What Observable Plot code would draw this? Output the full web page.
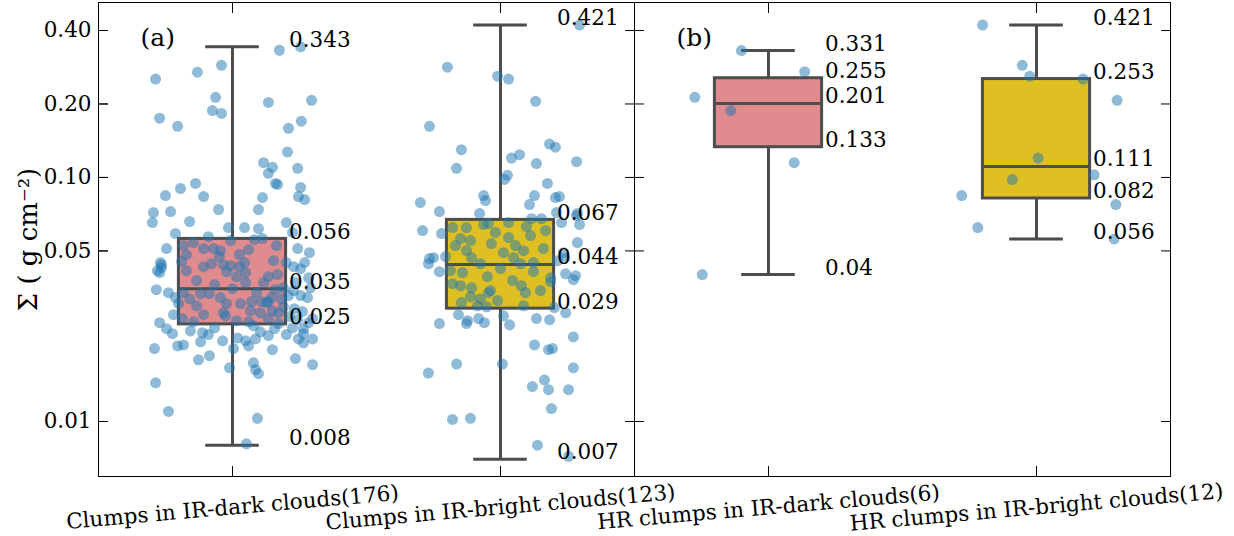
<!DOCTYPE html>
<html>
<head>
<meta charset="utf-8">
<script src="https://cdn.jsdelivr.net/npm/d3@7"></script>
<script src="https://cdn.jsdelivr.net/npm/@observablehq/plot@0.6"></script>
<style>
  html, body { margin: 0; padding: 0; background: #fff; }
  #chart svg { display: block; }
</style>
</head>
<body>
<div id="chart"></div>
<script>
// Surface density Σ (g cm^-2) of clumps, grouped by host-cloud type.
const panelNames = ["(a)", "(b)"];
const categoryLabels = [
  "Clumps in IR-dark clouds(176)",
  "Clumps in IR-bright clouds(123)",
  "HR clumps in IR-dark clouds(6)",
  "HR clumps in IR-bright clouds(12)"
];
const categoryPanel = ["(a)", "(a)", "(b)", "(b)"];
const categorySlot = [0, 1, 0, 1];

// Box statistics per category (whisker ends span the full data range).
const whiskerHigh   = [0.343, 0.421, 0.331, 0.421];
const upperQuartile = [0.056, 0.067, 0.255, 0.253];
const medians       = [0.035, 0.044, 0.201, 0.111];
const lowerQuartile = [0.025, 0.029, 0.133, 0.082];
const whiskerLow    = [0.008, 0.007, 0.04, 0.056];

const yTicks = [0.01, 0.05, 0.1, 0.2, 0.4];

// Individual clump values, with the horizontal strip jitter (fraction of a category slot).
const darkValues = [
  0.332, 0.343, 0.288, 0.270, 0.253, 0.213, 0.203, 0.207, 0.188, 0.183,
  0.175, 0.162, 0.170, 0.159, 0.127, 0.115, 0.110, 0.109, 0.104, 0.0945,
  0.0936, 0.0910, 0.0945, 0.0901, 0.0843, 0.0835, 0.0827, 0.0835, 0.0812, 0.0718,
  0.0653, 0.0725, 0.0660, 0.0739, 0.0739, 0.0623, 0.0623, 0.0617, 0.0653, 0.0589,
  0.0541, 0.0556, 0.0594, 0.0511, 0.0492, 0.0448, 0.0431, 0.0511, 0.0511, 0.0501,
  0.0474, 0.0483, 0.0506, 0.0483, 0.0452, 0.0448, 0.0427, 0.0407, 0.0431, 0.0443,
  0.0439, 0.0435, 0.0431, 0.0411, 0.0392, 0.0407, 0.0456, 0.0392, 0.0400, 0.0371,
  0.0347, 0.0337, 0.0322, 0.0337, 0.0334, 0.0334, 0.0318, 0.0322, 0.0304, 0.0304,
  0.0310, 0.0310, 0.0310, 0.0322, 0.0347, 0.0353, 0.0328, 0.0344, 0.0328, 0.0322,
  0.0371, 0.0388, 0.0304, 0.0274, 0.0264, 0.0274, 0.0279, 0.0271, 0.0284, 0.0279,
  0.0307, 0.0284, 0.0279, 0.0295, 0.0290, 0.0261, 0.0254, 0.0242, 0.0240, 0.0254,
  0.0256, 0.0256, 0.0252, 0.0229, 0.0231, 0.0227, 0.0233, 0.0225, 0.0227, 0.0229,
  0.0218, 0.0204, 0.0206, 0.0212, 0.0220, 0.0214, 0.0218, 0.0218, 0.0210, 0.0199,
  0.0199, 0.0197, 0.0179, 0.0186, 0.0166, 0.0174, 0.0163, 0.0157, 0.0181, 0.0171,
  0.0144, 0.0110, 0.0103, 0.0081, 0.0439, 0.0415, 0.0415, 0.0378, 0.0364, 0.0350,
  0.0337, 0.0371, 0.0318, 0.0269, 0.0264, 0.0247, 0.0259, 0.0242, 0.0235, 0.0240,
  0.0282, 0.0353, 0.0448, 0.0423, 0.0526, 0.0562, 0.0551, 0.0572, 0.0526, 0.0511,
  0.0448, 0.0298, 0.0240, 0.0264, 0.0204, 0.0214
];
const darkJitter = [
  0.175, 0.254, -0.041, -0.131, -0.287, -0.063, 0.134, 0.295, -0.075, -0.041,
  -0.272, -0.205, 0.257, 0.209, 0.205, 0.116, 0.149, 0.243, 0.134, 0.160,
  0.168, 0.254, -0.138, -0.194, -0.250, -0.108, 0.112, 0.246, 0.269, -0.295,
  -0.299, -0.231, -0.160, -0.052, 0.097, -0.015, 0.045, 0.097, 0.201, -0.213,
  -0.146, 0.082, 0.224, 0.243, 0.287, 0.269, 0.228, -0.108, -0.071, -0.045,
  -0.049, 0.026, 0.060, -0.172, -0.190, -0.269, -0.265, -0.272, -0.108, -0.078,
  -0.034, -0.007, 0.026, -0.022, 0.015, 0.049, 0.153, 0.134, 0.168, 0.049,
  -0.284, -0.239, -0.213, -0.183, -0.119, -0.086, -0.160, -0.045, -0.022, 0.030,
  0.071, 0.108, 0.134, 0.146, 0.160, 0.190, 0.209, 0.228, 0.254, 0.280,
  0.235, 0.284, -0.201, -0.220, -0.187, -0.108, -0.034, -0.026, 0.067, 0.104,
  0.127, 0.149, 0.172, 0.190, 0.231, 0.243, 0.284, 0.224, 0.265, -0.272,
  -0.146, 0.060, 0.172, -0.224, -0.112, -0.090, 0.104, 0.134, 0.201, 0.265,
  0.299, -0.205, -0.183, -0.119, 0.019, 0.049, 0.086, 0.246, 0.265, -0.291,
  0.004, 0.149, -0.127, -0.086, -0.011, 0.078, 0.086, 0.097, 0.235, 0.299,
  -0.287, -0.239, 0.093, 0.052, -0.265, -0.280, -0.172, -0.134, -0.067, 0.000,
  0.090, 0.116, 0.183, 0.213, 0.134, 0.078, 0.015, -0.067, -0.157, -0.246,
  0.261, 0.291, 0.201, 0.254, 0.164, 0.112, -0.007, -0.090, -0.183, -0.246,
  0.045, -0.134, 0.157, 0.299, 0.060, -0.037
];

const brightValues = [
  0.421, 0.283, 0.260, 0.253, 0.205, 0.162, 0.137, 0.133, 0.130, 0.124,
  0.120, 0.116, 0.114, 0.109, 0.102, 0.0981, 0.0945, 0.0843, 0.0843, 0.0827,
  0.0835, 0.0789, 0.0804, 0.0725, 0.0712, 0.0774, 0.0718, 0.0712, 0.0641, 0.0541,
  0.0606, 0.0589, 0.0623, 0.0623, 0.0562, 0.0647, 0.0653, 0.0567, 0.0678, 0.0678,
  0.0653, 0.0536, 0.0492, 0.0501, 0.0511, 0.0501, 0.0465, 0.0469, 0.0469, 0.0443,
  0.0443, 0.0448, 0.0492, 0.0465, 0.0698, 0.0641, 0.0443, 0.0411, 0.0415, 0.0407,
  0.0392, 0.0469, 0.0411, 0.0388, 0.0456, 0.0403, 0.0396, 0.0381, 0.0367, 0.0360,
  0.0353, 0.0344, 0.0360, 0.0337, 0.0307, 0.0318, 0.0337, 0.0374, 0.0293, 0.0279,
  0.0298, 0.0295, 0.0298, 0.0274, 0.0259, 0.0264, 0.0254, 0.0271, 0.0249, 0.0252,
  0.0252, 0.0264, 0.0261, 0.0222, 0.0206, 0.0197, 0.0199, 0.0158, 0.0172, 0.0172,
  0.0166, 0.0148, 0.0139, 0.0135, 0.0135, 0.0113, 0.0102, 0.0103, 0.0080, 0.0072,
  0.0551, 0.0595, 0.0526, 0.0578, 0.0606, 0.0526, 0.0423, 0.0378, 0.0344, 0.0313,
  0.0325, 0.0474, 0.0629
];
const brightJitter = [
  0.295, -0.198, -0.011, 0.030, 0.131, -0.265, 0.183, 0.205, -0.146, 0.071,
  0.041, 0.284, 0.134, -0.164, 0.026, 0.015, 0.175, -0.063, 0.127, 0.205,
  0.220, -0.299, -0.056, -0.228, -0.078, 0.108, 0.209, 0.287, 0.295, 0.287,
  -0.291, -0.220, -0.179, -0.127, -0.149, -0.045, 0.030, 0.030, 0.116, 0.153,
  0.228, -0.034, 0.011, 0.086, 0.160, -0.127, -0.265, -0.250, -0.108, -0.075,
  0.075, 0.123, 0.235, 0.239, 0.284, -0.063, -0.269, -0.228, -0.187, -0.142,
  -0.049, 0.049, 0.123, 0.187, 0.213, 0.243, 0.280, 0.272, -0.179, -0.149,
  -0.108, -0.037, 0.078, 0.093, -0.146, -0.075, -0.045, 0.187, 0.201, 0.243,
  -0.086, -0.052, 0.086, -0.157, -0.123, -0.082, -0.060, 0.011, 0.034, -0.228,
  -0.127, 0.134, 0.183, 0.272, 0.127, 0.179, 0.194, -0.269, -0.164, 0.007,
  0.272, 0.164, 0.119, 0.179, 0.254, 0.190, -0.179, -0.112, 0.138, 0.254,
  -0.112, -0.019, 0.056, 0.112, 0.168, -0.168, 0.000, 0.045, 0.149, -0.011,
  -0.112, -0.205, 0.097
];

const hrDarkValues = [0.331, 0.271, 0.213, 0.188, 0.115, 0.040];
const hrDarkJitter = [-0.101, 0.135, -0.275, -0.141, 0.096, -0.247];

const hrBrightValues = [0.421, 0.288, 0.260, 0.253, 0.207, 0.120, 0.1025, 0.098, 0.0843, 0.0774, 0.0623, 0.056];
const hrBrightJitter = [-0.201, -0.053, -0.025, 0.174, 0.301, 0.006, 0.215, -0.090, -0.279, 0.296, -0.219, 0.290];

// ---- tables for the marks ----
const boxFill = ["#e08b8d", "#dec022", "#e08b8d", "#dec022"];
const edge = "#4d4d4d";
const halfBox = 0.2;   // half box width, in category-slot units
const halfCap = 0.1;   // half whisker-cap width
const textSize = 21.5;

const categories = categoryLabels.map((label, i) => ({
  label,
  panel: categoryPanel[i],
  pos: categorySlot[i] + 0.5,
  hi: whiskerHigh[i],
  q3: upperQuartile[i],
  med: medians[i],
  q1: lowerQuartile[i],
  lo: whiskerLow[i],
  fill: boxFill[i]
}));

const sampleSets = [
  [darkValues, darkJitter],
  [brightValues, brightJitter],
  [hrDarkValues, hrDarkJitter],
  [hrBrightValues, hrBrightJitter]
];
const points = sampleSets.flatMap(([values, jitter], i) =>
  values.map((value, k) => ({
    panel: categories[i].panel,
    x: categories[i].pos + jitter[k],
    value
  }))
);

const annotations = categories.flatMap(c =>
  [c.hi, c.q3, c.med, c.q1, c.lo].map(value => ({
    panel: c.panel,
    x: c.pos + halfBox,
    value,
    text: String(value)
  }))
);

const slots = [0.5, 1.5];

const chart = Plot.plot({
  width: 1234,
  height: 536,
  marginLeft: 97,
  marginRight: 64,
  marginTop: 2,
  marginBottom: 60,
  style: {fontFamily: "'DejaVu Serif', serif", fontSize: textSize + "px", background: "#fff", color: "#000"},
  fx: {domain: panelNames, padding: 0, axis: null, label: null},
  x: {domain: [0, 2], axis: null, label: null},
  y: {type: "log", domain: [0.005952, 0.5210], axis: null, label: null},
  marks: [
    // boxes, whiskers, caps, medians
    Plot.rect(categories, {
      fx: "panel", x1: d => d.pos - halfBox, x2: d => d.pos + halfBox,
      y1: "q1", y2: "q3", fill: "fill", stroke: edge, strokeWidth: 3
    }),
    Plot.ruleX(categories, {fx: "panel", x: "pos", y1: "q3", y2: "hi", stroke: edge, strokeWidth: 3}),
    Plot.ruleX(categories, {fx: "panel", x: "pos", y1: "lo", y2: "q1", stroke: edge, strokeWidth: 3}),
    Plot.ruleY(categories, {fx: "panel", y: "hi", x1: d => d.pos - halfCap, x2: d => d.pos + halfCap, stroke: edge, strokeWidth: 3}),
    Plot.ruleY(categories, {fx: "panel", y: "lo", x1: d => d.pos - halfCap, x2: d => d.pos + halfCap, stroke: edge, strokeWidth: 3}),
    Plot.ruleY(categories, {fx: "panel", y: "med", x1: d => d.pos - halfBox, x2: d => d.pos + halfBox, stroke: edge, strokeWidth: 3}),

    // individual clumps
    Plot.dot(points, {fx: "panel", x: "x", y: "value", r: 5.5, fill: "#1f77b4", fillOpacity: 0.5, stroke: null}),

    // value annotations next to each box
    Plot.text(annotations, {
      fx: "panel", x: "x", y: "value", text: "text",
      dx: 3, textAnchor: "start", lineAnchor: "bottom", fontSize: textSize
    }),

    // frames and inward ticks
    Plot.frame({stroke: "#000", strokeWidth: 1}),
    Plot.axisY(yTicks, {anchor: "left", tickSize: -10, tickPadding: 17, tickFormat: d => d.toFixed(2), fontSize: textSize, label: null}),
    Plot.axisY(yTicks, {anchor: "left", tickSize: -10, fill: "none", facetAnchor: null, label: null}),
    Plot.axisY(yTicks, {anchor: "right", tickSize: -10, fill: "none", facetAnchor: null, label: null}),
    Plot.axisX(slots, {anchor: "bottom", tickSize: -10, fill: "none", facetAnchor: null, label: null}),
    Plot.axisX(slots, {anchor: "top", tickSize: -10, fill: "none", facetAnchor: null, label: null}),

    // category names under each slot
    Plot.text(categories, {
      fx: "panel", x: "pos", text: "label", frameAnchor: "bottom",
      rotate: -5, dy: 31, textAnchor: "middle", lineAnchor: "middle", fontSize: textSize
    }),

    // panel tags
    Plot.text(panelNames, {fx: d => d, text: d => d, frameAnchor: "top-left", dx: 42, dy: 35, textAnchor: "start", lineAnchor: "middle", fontSize: 25}),

    // y-axis title
    Plot.text(["Σ ( g cm⁻²)"], {fx: () => "(a)", text: d => d, frameAnchor: "left", rotate: -90, dx: -70, lineAnchor: "middle", textAnchor: "middle", fontSize: 26})
  ]
});

document.getElementById("chart").appendChild(chart);
</script>
</body>
</html>
